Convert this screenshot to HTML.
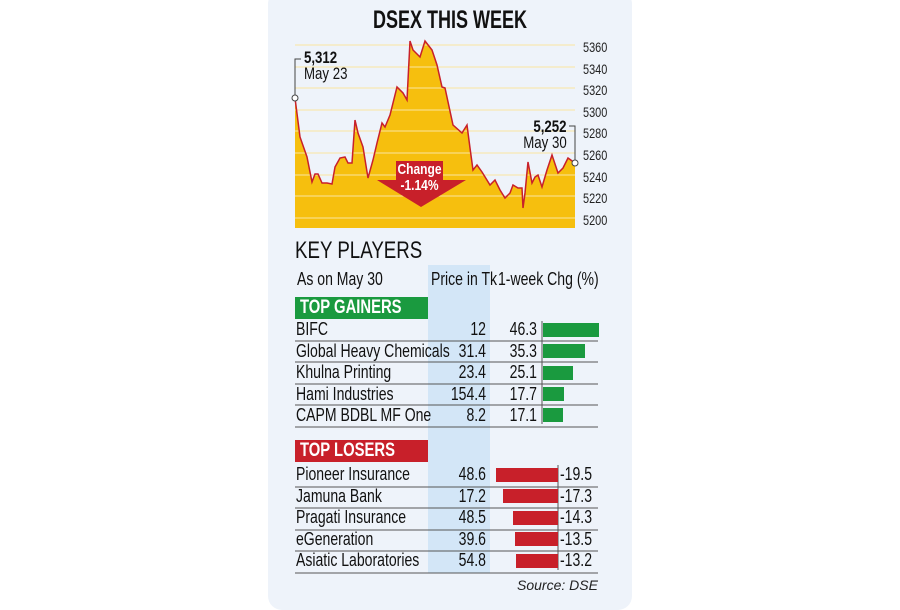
<!DOCTYPE html>
<html><head><meta charset="utf-8"><style>
body{margin:0;width:900px;height:600px;background:#fff;position:relative;overflow:hidden;font-family:"Liberation Sans",sans-serif;}
.panel{position:absolute;left:268px;top:-10px;width:364px;height:620px;background:#eef3fa;border-radius:14px;}
.t{position:absolute;white-space:nowrap;color:#111;}
.cl{transform:scaleX(0.78);transform-origin:left top;}
.cr{transform:scaleX(0.78);transform-origin:right top;}
</style></head><body>
<div class="panel"></div>
<svg width="900" height="600" style="position:absolute;left:0;top:0">
<rect x="428" y="265" width="62" height="308" fill="#d3e6f7"/>
<polygon fill="#f6bf0e" points="295,228 295,98 300,137 307,157 312,182 315,174 318,174 322,183 327,183 332,184 335,167 340,158 345,157 348,163 352,163 355,120 358,133 363,147 368,178 373,160 377,143 382,123 385,127 390,115 397,87 403,93 407,100 410,41 413,50 420,57 425,41 432,50 437,65 442,87 445,88 453,125 462,133 467,125 470,148 473,170 477,165 482,172 490,185 495,180 500,190 505,198 510,193 513,185 518,188 522,188 523,208 525,193 528,162 532,183 535,177 538,175 542,187 547,170 552,155 558,173 563,168 568,158 575,163 575,228"/>
<g stroke="#fbe4a0" stroke-width="1">
<line x1="295" y1="45" x2="575" y2="45"/><line x1="295" y1="67" x2="575" y2="67"/><line x1="295" y1="88" x2="575" y2="88"/><line x1="295" y1="110" x2="575" y2="110"/><line x1="295" y1="131" x2="575" y2="131"/><line x1="295" y1="153" x2="575" y2="153"/><line x1="295" y1="175" x2="575" y2="175"/><line x1="295" y1="196" x2="575" y2="196"/><line x1="295" y1="218" x2="575" y2="218"/>
</g>
<polyline fill="none" stroke="#c8202a" stroke-width="1.5" points="295,98 300,137 307,157 312,182 315,174 318,174 322,183 327,183 332,184 335,167 340,158 345,157 348,163 352,163 355,120 358,133 363,147 368,178 373,160 377,143 382,123 385,127 390,115 397,87 403,93 407,100 410,41 413,50 420,57 425,41 432,50 437,65 442,87 445,88 453,125 462,133 467,125 470,148 473,170 477,165 482,172 490,185 495,180 500,190 505,198 510,193 513,185 518,188 522,188 523,208 525,193 528,162 532,183 535,177 538,175 542,187 547,170 552,155 558,173 563,168 568,158 575,163"/>
<polyline fill="none" stroke="#444" stroke-width="1" points="301,59 295,59 295,98"/>
<polyline fill="none" stroke="#444" stroke-width="1" points="569,126 575,126 575,163"/>
<circle cx="295" cy="98" r="3" fill="#fff" stroke="#444"/>
<circle cx="575" cy="163" r="3" fill="#fff" stroke="#444"/>
<polygon fill="#c8202a" points="396,161 443,161 443,180 466,180 421,207 377,180 396,180"/>
<rect x="295" y="297" width="133" height="22" fill="#1a9a3f"/>
<rect x="295" y="440" width="133" height="22" fill="#c8202a"/>
<g stroke="#555" stroke-width="1">
<line x1="295" y1="341" x2="598" y2="341"/><line x1="295" y1="362" x2="598" y2="362"/><line x1="295" y1="384" x2="598" y2="384"/><line x1="295" y1="405" x2="598" y2="405"/><line x1="295" y1="427" x2="598" y2="427"/>
<line x1="295" y1="487" x2="598" y2="487"/><line x1="295" y1="508" x2="598" y2="508"/><line x1="295" y1="530" x2="598" y2="530"/><line x1="295" y1="551" x2="598" y2="551"/><line x1="295" y1="573" x2="598" y2="573"/>
<line x1="542" y1="321" x2="542" y2="424"/><line x1="558" y1="465" x2="558" y2="570"/>
</g>
<g fill="#1a9a3f">
<rect x="543" y="323" width="56" height="14"/><rect x="543" y="344" width="42" height="14"/><rect x="543" y="366" width="30" height="14"/><rect x="543" y="387" width="21" height="14"/><rect x="543" y="408" width="20" height="14"/>
</g>
<g fill="#c8202a">
<rect x="496" y="468" width="62" height="14"/><rect x="503" y="489" width="55" height="14"/><rect x="513" y="511" width="45" height="14"/><rect x="515" y="532" width="43" height="14"/><rect x="516" y="554" width="42" height="14"/>
</g>
</svg>
<div class="t" style="left:0;width:900px;text-align:center;top:6px;font-size:25px;font-weight:bold;transform:scaleX(0.72);transform-origin:450px 0">DSEX THIS WEEK</div>
<div class="t cl" style="left:304px;top:48px;font-size:17px;font-weight:bold;">5,312</div>
<div class="t cl" style="left:304px;top:64px;font-size:17px;">May 23</div>
<div class="t cr" style="right:333px;top:117px;font-size:17px;font-weight:bold;">5,252</div>
<div class="t cr" style="right:333px;top:133px;font-size:17px;">May 30</div>
<div class="t" style="left:391px;top:162px;width:57px;text-align:center;color:#fff;font-weight:bold;font-size:15px;line-height:16px;transform:scaleX(0.8)">Change<br>-1.14%</div>
<div class="cl" style="position:absolute;left:583px;top:37px;font-size:14px;line-height:21.6px;color:#222">5360<br>5340<br>5320<br>5300<br>5280<br>5260<br>5240<br>5220<br>5200</div>
<div class="t cl" style="left:295px;top:237px;font-size:24px;">KEY PLAYERS</div>
<div class="t cl" style="left:297px;top:269px;font-size:18px;">As on May 30</div>
<div class="t cl" style="left:431px;top:269px;font-size:18px;">Price in Tk</div>
<div class="t cl" style="left:498px;top:269px;font-size:18px;">1-week Chg (%)</div>
<div class="t cl" style="left:300px;top:297px;font-size:19px;color:#fff;font-weight:bold">TOP GAINERS</div>
<div class="t cl" style="left:300px;top:440px;font-size:19px;color:#fff;font-weight:bold">TOP LOSERS</div>
<div class="cl" style="position:absolute;left:296px;top:319px;font-size:18px;line-height:21.5px;color:#111;white-space:nowrap">BIFC<br>Global Heavy Chemicals<br>Khulna Printing<br>Hami Industries<br>CAPM BDBL MF One</div>
<div class="cr" style="position:absolute;left:400px;width:86px;text-align:right;top:319px;font-size:18px;line-height:21.5px;color:#111">12<br>31.4<br>23.4<br>154.4<br>8.2</div>
<div class="cr" style="position:absolute;left:480px;width:57px;text-align:right;top:319px;font-size:18px;line-height:21.5px;color:#111">46.3<br>35.3<br>25.1<br>17.7<br>17.1</div>
<div class="cl" style="position:absolute;left:296px;top:464px;font-size:18px;line-height:21.5px;color:#111;white-space:nowrap">Pioneer Insurance<br>Jamuna Bank<br>Pragati Insurance<br>eGeneration<br>Asiatic Laboratories</div>
<div class="cr" style="position:absolute;left:400px;width:86px;text-align:right;top:464px;font-size:18px;line-height:21.5px;color:#111">48.6<br>17.2<br>48.5<br>39.6<br>54.8</div>
<div class="cl" style="position:absolute;left:560px;top:464px;font-size:18px;line-height:21.5px;color:#111">-19.5<br>-17.3<br>-14.3<br>-13.5<br>-13.2</div>
<div class="t" style="left:517px;top:577px;font-size:14px;font-style:italic;color:#222">Source: DSE</div>
</body></html>
